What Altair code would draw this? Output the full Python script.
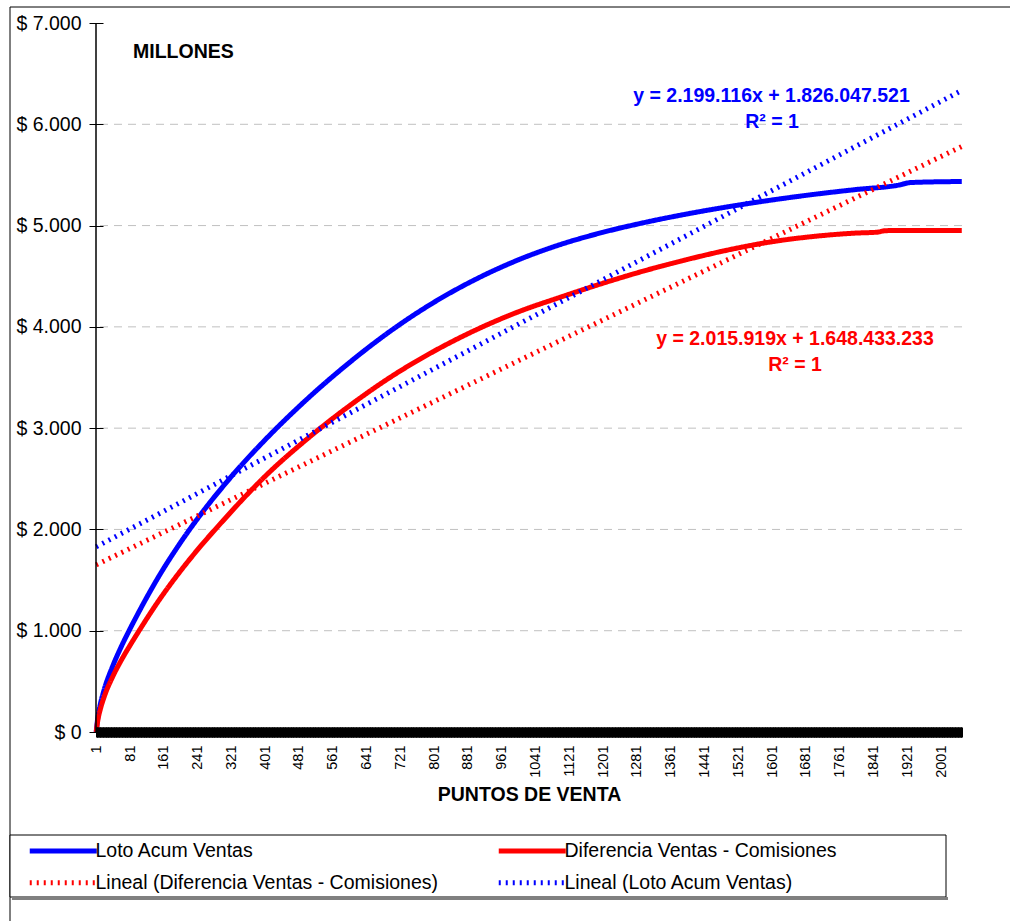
import altair as alt
import pandas as pd

FONT = "Liberation Sans, Arial, sans-serif"
N_PUNTOS = 2050

# Ventas acumuladas de Loto (millones de $) según número de puntos de venta
loto_idx = [1, 5, 10, 20, 40, 60, 80, 100, 150, 200, 250, 300, 350, 400, 500, 600,
            700, 800, 900, 1000, 1100, 1200, 1300, 1400, 1500, 1600, 1700, 1800,
            1900, 1930, 2050]
loto_val = [0, 150, 260, 420, 650, 840, 1010, 1170, 1542, 1867, 2157, 2419, 2659,
            2881, 3286, 3646, 3966, 4241, 4471, 4661, 4813, 4933, 5031, 5115, 5188,
            5252, 5308, 5356, 5399, 5425, 5435]

# Diferencia ventas - comisiones (millones de $)
dif_idx = [1, 5, 10, 20, 40, 60, 80, 100, 150, 200, 250, 300, 350, 400, 500, 600,
           700, 800, 900, 1000, 1100, 1200, 1300, 1400, 1500, 1600, 1700, 1800,
           1850, 1870, 2050]
dif_val = [0, 120, 213, 349, 546, 706, 848, 983, 1303, 1587, 1844, 2080, 2308,
           2521, 2892, 3219, 3510, 3758, 3970, 4148, 4293, 4430, 4555, 4665, 4762,
           4840, 4893, 4926, 4935, 4950, 4952]

# Líneas de tendencia (en $): y = pendiente * x + intercepto
tend_loto = (2199116, 1826047521)
tend_dif = (2015919, 1648433233)

SERIES = ["Loto Acum Ventas", "Diferencia Ventas - Comisiones",
          "Lineal (Diferencia Ventas - Comisiones)", "Lineal (Loto Acum Ventas)"]
COLORES = ["#0000FF", "#FF0000", "#FF0000", "#0000FF"]
TRAZOS = [[1, 0], [1, 0], [2, 5], [2, 5]]
GROSORES = [5, 5, 1.8, 1.8]

y_ticks = [0, 1000, 2000, 3000, 4000, 5000, 6000, 7000]
y_grid = [1000, 2000, 3000, 4000, 5000, 6000]
x_label_step = 80


def miles(n):
    return f"{n:,}".replace(",", ".")


curvas = pd.concat([
    pd.DataFrame({"punto": loto_idx, "valor": loto_val, "serie": SERIES[0]}),
    pd.DataFrame({"punto": dif_idx, "valor": dif_val, "serie": SERIES[1]}),
])

extremos = [1, N_PUNTOS]
tendencias = pd.concat([
    pd.DataFrame({"punto": extremos,
                  "valor": [(tend_dif[0] * x + tend_dif[1]) / 1e6 for x in extremos],
                  "serie": SERIES[2]}),
    pd.DataFrame({"punto": extremos,
                  "valor": [(tend_loto[0] * x + tend_loto[1]) / 1e6 for x in extremos],
                  "serie": SERIES[3]}),
])

x_scale = alt.Scale(domain=[0.5, N_PUNTOS + 0.5], nice=False, zero=False)
y_scale = alt.Scale(domain=[0, 7000], nice=False)

# one tick per punto de venta, labelled every 80
x_axis = alt.Axis(
    values=list(range(1, N_PUNTOS + 1)), tickCount=10000,
    labelExpr=f"(datum.value - 1) % {x_label_step} == 0 ? '' + datum.value : ''",
    labelAngle=270, labelAlign="right", labelBaseline="middle",
    labelFont=FONT, labelFontSize=14.5, labelColor="black", labelPadding=8,
    labelOverlap=False, labelFlush=False,
    offset=-5, tickSize=10, tickColor="black", tickWidth=1,
    domain=False, grid=False, zindex=1,
    title="PUNTOS DE VENTA", titleFont=FONT, titleFontSize=19.5,
    titleFontWeight="bold", titleColor="black", titlePadding=8,
)
y_axis = alt.Axis(
    values=y_ticks,
    labelExpr="'$ ' + replace(format(datum.value, ','), ',', '.')",
    labelFont=FONT, labelFontSize=19.5, labelColor="black", labelPadding=8,
    offset=-7, tickSize=14, tickColor="black", tickWidth=1,
    domain=False, grid=False, title=None, zindex=1,
)

# line swatch drawn to the right of a small symbol box
leyenda = alt.Legend(
    title=None, orient="none", legendX=-71, legendY=818,
    columns=2, direction="horizontal",
    symbolType="M-1,0H12.4", symbolSize=100,
    labelFont=FONT, labelFontSize=19.5, labelColor="black", labelOffset=51,
    labelLimit=0, columnPadding=50, rowPadding=11, padding=0,
)

color_enc = alt.Color("serie:N", scale=alt.Scale(domain=SERIES, range=COLORES), legend=leyenda)
dash_enc = alt.StrokeDash("serie:N", scale=alt.Scale(domain=SERIES, range=TRAZOS), legend=leyenda)
width_enc = alt.StrokeWidth("serie:N", scale=alt.Scale(domain=SERIES, range=GROSORES), legend=leyenda)

uno = pd.DataFrame({"k": [0]})

marco = alt.Chart(uno).mark_rect(fill="white", stroke="black", strokeWidth=1).encode(
    x=alt.value(-86), x2=alt.value(920), y=alt.value(-16), y2=alt.value(910))

caja_leyenda = alt.Chart(uno).mark_rect(fill="white", stroke="black", strokeWidth=1).encode(
    x=alt.value(-86), x2=alt.value(850), y=alt.value(812), y2=alt.value(874))
sombra_leyenda = alt.Chart(uno).mark_rule(color="#808080", strokeWidth=3).encode(
    x=alt.value(-84), x2=alt.value(852), y=alt.value(875.5))

grilla = alt.Chart(pd.DataFrame({"v": y_grid})).mark_rule(
    color="#c0c0c0", strokeDash=[8, 6], strokeWidth=1).encode(
    y=alt.Y("v:Q", scale=y_scale, axis=y_axis))

lineas = alt.Chart(curvas).mark_line(interpolate="monotone", strokeCap="butt").encode(
    x=alt.X("punto:Q", scale=x_scale, axis=x_axis),
    y=alt.Y("valor:Q", scale=y_scale, axis=y_axis),
    color=color_enc, strokeDash=dash_enc, strokeWidth=width_enc,
)

lineas_tend = alt.Chart(tendencias).mark_line(strokeCap="butt").encode(
    x=alt.X("punto:Q", scale=x_scale, axis=x_axis),
    y=alt.Y("valor:Q", scale=y_scale, axis=y_axis),
    color=color_enc, strokeDash=dash_enc, strokeWidth=width_enc,
)

eje_y = alt.Chart(uno).mark_rule(color="black", strokeWidth=1.5).encode(
    x=alt.datum(0.5))


def texto(t, x, y, color="black", align="center"):
    return alt.Chart(uno).mark_text(
        text=t, font=FONT, fontSize=19.5, fontWeight="bold", color=color,
        align=align, baseline="middle").encode(x=alt.value(x), y=alt.value(y))


ecu_loto = f"y = {miles(tend_loto[0])}x + {miles(tend_loto[1])}"
ecu_dif = f"y = {miles(tend_dif[0])}x + {miles(tend_dif[1])}"

textos = [
    texto("MILLONES", 37, 28.7, align="left"),
    texto(ecu_loto, 675.5, 72.5, "#0000FF"),
    texto("R² = 1", 676, 98.7, "#0000FF"),
    texto(ecu_dif, 699, 316.3, "#FF0000"),
    texto("R² = 1", 699, 342, "#FF0000"),
]

chart = alt.layer(
    marco, caja_leyenda, sombra_leyenda, grilla, lineas, lineas_tend, eje_y, *textos
).properties(
    width=866, height=709,
    padding={"left": 96, "top": 23, "right": 48, "bottom": 189},
    autosize=alt.AutoSizeParams(type="none"),
).configure_view(
    stroke="#808080", strokeWidth=1.5
).configure(background="white")

chart.save("out.html", embed_options={"renderer": "svg", "actions": False})
